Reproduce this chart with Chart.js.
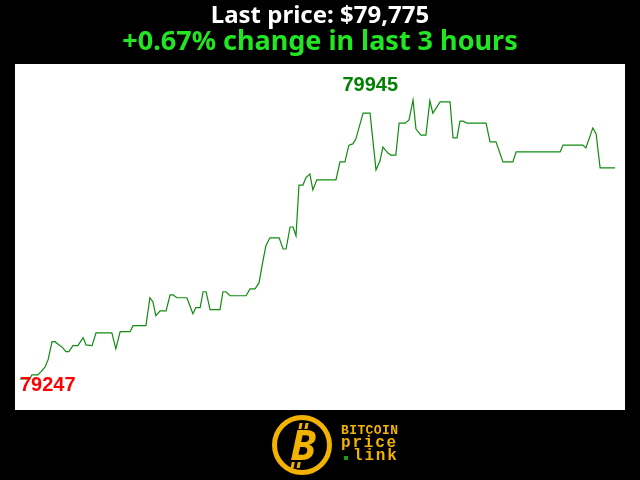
<!DOCTYPE html>
<html>
<head>
<meta charset="utf-8">
<script src="https://cdn.jsdelivr.net/npm/chart.js@4.4.1/dist/chart.umd.min.js"></script>
<style>
    html, body { margin: 0; padding: 0; background: #000; }
    canvas { display: block; }
</style>
</head>
<body>
<canvas id="priceChart" width="640" height="480"></canvas>
<script>
// Price data (minutes since start of the 3 hour window, USD)
const minutes = [
    0.0, 3.0, 3.6, 5.4, 6.4, 7.6, 8.5, 9.7, 10.6, 12.1, 12.7, 13.9, 14.8, 16.0, 17.5,
    19.1, 20.0, 21.8, 23.0, 27.8, 29.0, 30.3, 33.3, 34.2, 38.1, 39.3, 40.2, 41.1, 42.4,
    44.2, 45.4, 46.3, 47.5, 50.5, 52.3, 53.2, 54.5, 55.4, 56.3, 57.5, 60.5, 61.4, 62.3,
    63.5, 68.4, 69.6, 71.1, 72.3, 73.5, 74.4, 75.6, 78.4, 79.6, 80.5, 81.7, 82.6, 83.5,
    84.4, 85.6, 86.5, 87.7, 88.6, 89.8, 95.6, 96.8, 98.3, 99.5, 100.7, 101.6, 103.8,
    105.9, 107.7, 108.9, 109.8, 111.3, 112.2, 113.7, 114.7, 116.5, 117.7, 118.9, 119.8,
    121.3, 122.8, 124.0, 124.9, 127.1, 130.1, 131.0, 132.2, 133.1, 134.0, 135.2, 141.0,
    142.2, 144.0, 146.1, 149.1, 150.1, 163.4, 164.3, 170.3, 171.2, 173.3, 174.3, 175.5,
    180.0
];
const prices = [
    79247, 79247, 79257, 79257, 79265, 79277, 79295, 79340, 79340, 79330, 79327, 79315, 79315, 79330, 79330,
    79350, 79332, 79330, 79362, 79362, 79322, 79365, 79365, 79380, 79380, 79450, 79440, 79405, 79417,
    79417, 79457, 79457, 79450, 79450, 79410, 79425, 79425, 79465, 79465, 79420, 79420, 79465, 79465,
    79455, 79455, 79472, 79472, 79487, 79542, 79580, 79600, 79600, 79572, 79572, 79627, 79627, 79605,
    79732, 79732, 79750, 79760, 79720, 79745, 79745, 79790, 79790, 79832, 79835, 79847, 79912,
    79912, 79770, 79792, 79827, 79812, 79807, 79807, 79887, 79887, 79895, 79945, 79872,
    79857, 79857, 79943, 79912, 79940, 79940, 79850, 79850, 79892, 79892, 79887, 79887,
    79840, 79840, 79790, 79790, 79815, 79815, 79832, 79832, 79825, 79875, 79860, 79775,
    79775
];
const lastPrice = 79775;
const changePercent = 0.67;
const windowHours = 3;

const points = minutes.map((m, i) => ({ x: m, y: prices[i] }));
const maxPrice = Math.max(...prices);
const minPrice = Math.min(...prices);

// Black page, white plot box
const backgroundPlugin = {
    id: 'background',
    beforeDraw(chart) {
        const { ctx, chartArea } = chart;
        ctx.save();
        ctx.fillStyle = '#000';
        ctx.fillRect(0, 0, chart.width, chart.height);
        ctx.fillStyle = '#fff';
        ctx.fillRect(chartArea.left, chartArea.top, chartArea.right - chartArea.left, chartArea.bottom - chartArea.top);
        ctx.restore();
    }
};

// High / low labels
const extremesPlugin = {
    id: 'extremes',
    afterDatasetsDraw(chart) {
        const { ctx, scales } = chart;
        const iMax = prices.indexOf(maxPrice);
        const iMin = prices.indexOf(minPrice);
        ctx.save();
        ctx.font = 'bold 20px "Liberation Sans"';
        ctx.textBaseline = 'alphabetic';

        ctx.fillStyle = '#008000';
        ctx.textAlign = 'right';
        ctx.fillText(String(maxPrice), scales.x.getPixelForValue(minutes[iMax]) - 15, scales.y.getPixelForValue(maxPrice) - 9);

        ctx.fillStyle = '#ff0000';
        ctx.textAlign = 'left';
        ctx.fillText(String(minPrice), scales.x.getPixelForValue(minutes[iMin]), scales.y.getPixelForValue(minPrice) + 12);
        ctx.restore();
    }
};

// Logo under the chart
const logoPlugin = {
    id: 'logo',
    afterDraw(chart) {
        const ctx = chart.ctx;
        const orange = '#f2b200';
        ctx.save();
        ctx.strokeStyle = orange;
        ctx.lineWidth = 5;
        ctx.beginPath();
        ctx.arc(302, 445, 27.5, 0, Math.PI * 2);
        ctx.stroke();

        // bitcoin bars
        ctx.fillStyle = orange;
        ctx.save();
        ctx.translate(302, 446);
        ctx.transform(1, 0, -0.2, 1, 0, 0);
        ctx.fillRect(-7, -23, 3, 6);
        ctx.fillRect(-1, -23, 3, 6);
        ctx.fillRect(-7, 16, 3, 6);
        ctx.fillRect(-1, 16, 3, 6);
        ctx.restore();

        ctx.font = 'italic bold 42px "Noto Sans"';
        ctx.textAlign = 'center';
        ctx.textBaseline = 'middle';
        ctx.fillText('B', 303, 448);

        // word mark
        ctx.font = 'bold 13px "Liberation Mono"';
        ctx.textAlign = 'left';
        ctx.textBaseline = 'alphabetic';
        'BITCOIN'.split('').forEach((c, i) => ctx.fillText(c, 341 + i * 8.2, 434));
        ctx.font = 'bold 16px "Liberation Mono"';
        'price'.split('').forEach((c, i) => ctx.fillText(c, 341 + i * 11.4, 447));
        'link'.split('').forEach((c, i) => ctx.fillText(c, 353 + i * 11.4, 460));
        ctx.fillStyle = '#1a9a1a';
        ctx.fillRect(344, 456, 4, 4);
        ctx.restore();
    }
};

new Chart(document.getElementById('priceChart'), {
    type: 'line',
    data: {
        datasets: [{
            data: points,
            borderColor: '#108c10',
            borderWidth: 1.2,
            pointRadius: 0,
            tension: 0,
            fill: false
        }]
    },
    options: {
        responsive: false,
        animation: false,
        devicePixelRatio: 1,
        layout: {
            padding: { left: 15, right: 15, top: 0, bottom: 70 }
        },
        plugins: {
            legend: { display: false },
            tooltip: { enabled: false },
            title: {
                display: true,
                text: `Last price: $${lastPrice.toLocaleString('en-US')}`,
                color: '#fff',
                font: { family: 'Noto Sans', size: 24, weight: 'bold', lineHeight: 1 },
                padding: { top: 4, bottom: 1 }
            },
            subtitle: {
                display: true,
                text: `+${changePercent.toFixed(2)}% change in last ${windowHours} hours`,
                color: '#22e622',
                font: { family: 'Noto Sans', size: 27, weight: 'bold', lineHeight: 1 },
                padding: { top: 0, bottom: 8 }
            }
        },
        scales: {
            x: { type: 'linear', min: -1.51, max: 183.03, display: false },
            y: { min: 79169, max: 80035, display: false }
        }
    },
    plugins: [backgroundPlugin, extremesPlugin, logoPlugin]
});
</script>
</body>
</html>
